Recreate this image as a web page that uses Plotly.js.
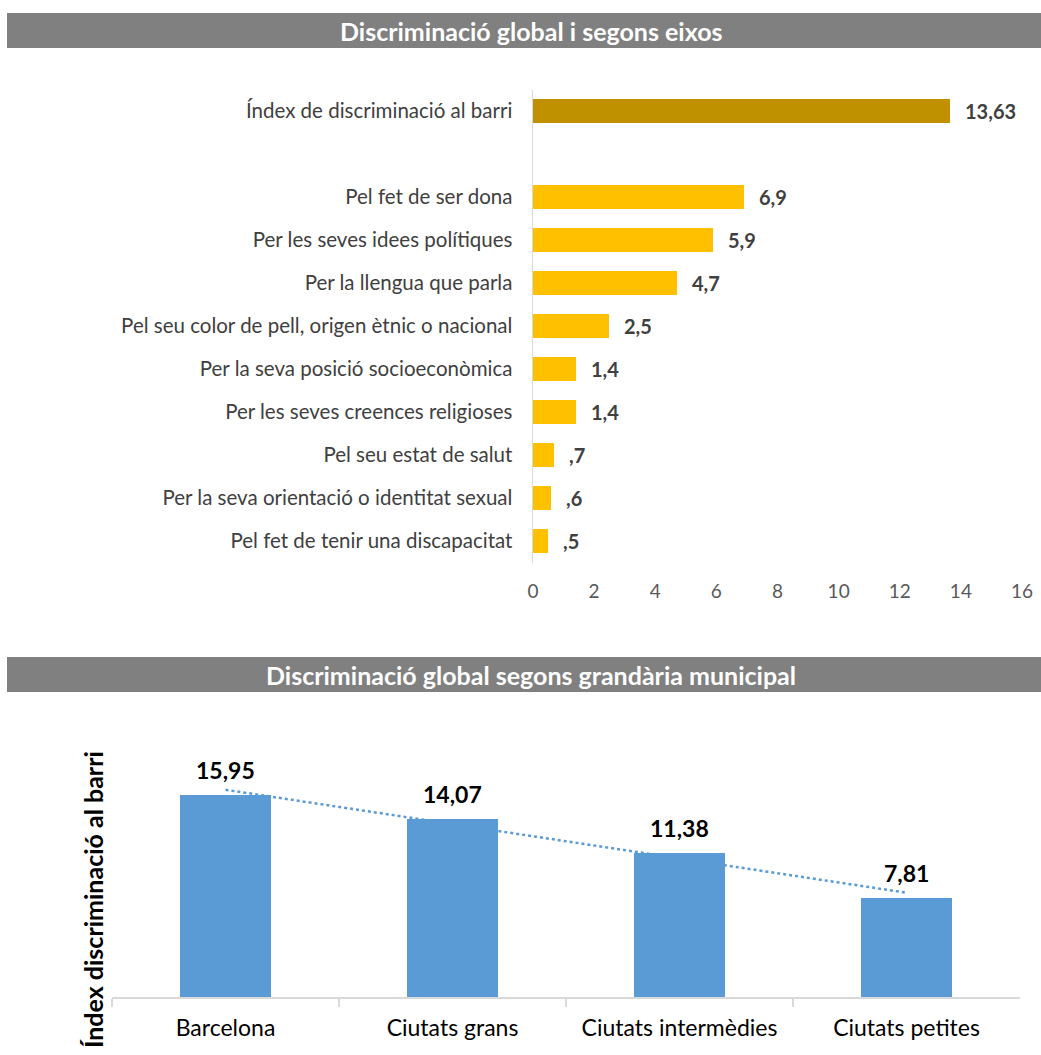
<!DOCTYPE html>
<html><head><meta charset="utf-8">
<script src="https://cdn.plot.ly/plotly-3.0.1.min.js"></script>
<style>body{margin:0;background:#fff}#chart{width:1041px;height:1055px}</style>
</head><body><div id="chart"></div>
<script>
// ---- Data ----
const titleTop = "Discriminació global i segons eixos";
const titleBottom = "Discriminació global segons grandària municipal";

const indexLabel = "Índex de discriminació al barri";
const indexValue = 13.63;

const axisCategories = [
  "Pel fet de ser dona",
  "Per les seves idees polítiques",
  "Per la llengua que parla",
  "Pel seu color de pell, origen ètnic o nacional",
  "Per la seva posició socioeconòmica",
  "Per les seves creences religioses",
  "Pel seu estat de salut",
  "Per la seva orientació o identitat sexual",
  "Pel fet de tenir una discapacitat"
];
const axisValues = [6.9, 5.9, 4.7, 2.5, 1.4, 1.4, 0.7, 0.6, 0.5];

const sizeCategories = ["Barcelona", "Ciutats grans", "Ciutats intermèdies", "Ciutats petites"];
const sizeValues = [15.95, 14.07, 11.38, 7.81];

const yTitleBottom = "Índex discriminació al barri";
const topTicks = [0, 2, 4, 6, 8, 10, 12, 14, 16];

// ---- Helpers ----
const W = 1041, H = 1055;
const px = v => v / W;
const py = v => 1 - v / H;
const fmt = v => String(v).replace('.', ',').replace(/^0,/, ',');
const FONT = "Lato, 'Open Sans', sans-serif";

// linear trendline (least squares over category positions)
const n = sizeValues.length;
const xi = sizeValues.map((_, i) => i + 1);
const mx = xi.reduce((a, b) => a + b, 0) / n;
const my = sizeValues.reduce((a, b) => a + b, 0) / n;
let sxy = 0, sxx = 0;
for (let i = 0; i < n; i++) { sxy += (xi[i] - mx) * (sizeValues[i] - my); sxx += (xi[i] - mx) ** 2; }
const slope = sxy / sxx, icpt = my - slope * mx;
const trendY = xi.map(x => icpt + slope * x);

const spacer = " ";
const topOrder = [indexLabel, spacer, ...axisCategories];

const traces = [
  { type: 'bar', orientation: 'h', x: [indexValue], y: [indexLabel], xaxis: 'x', yaxis: 'y',
    marker: { color: '#BF9000' }, width: 0.58, hoverinfo: 'skip', showlegend: false },
  { type: 'bar', orientation: 'h', x: axisValues, y: axisCategories, xaxis: 'x', yaxis: 'y',
    marker: { color: '#FFC000' }, width: 0.58, hoverinfo: 'skip', showlegend: false },
  { type: 'bar', x: sizeCategories, y: sizeValues, xaxis: 'x2', yaxis: 'y2',
    marker: { color: '#5B9BD5' }, width: 0.4, hoverinfo: 'skip', showlegend: false },
  { type: 'scatter', mode: 'lines', x: sizeCategories, y: trendY, xaxis: 'x2', yaxis: 'y2',
    line: { color: '#5B9BD5', width: 2.5, dash: 'dot' }, hoverinfo: 'skip', showlegend: false }
];

const annotations = [];
// band titles
annotations.push({ xref: 'paper', yref: 'paper', x: px(531), y: py(31), text: '<b>' + titleTop + '</b>',
  showarrow: false, font: { family: FONT, size: 25, color: '#ffffff' }, xanchor: 'center', yanchor: 'middle' });
annotations.push({ xref: 'paper', yref: 'paper', x: px(531), y: py(675), text: '<b>' + titleBottom + '</b>',
  showarrow: false, font: { family: FONT, size: 25, color: '#ffffff' }, xanchor: 'center', yanchor: 'middle' });
// top data labels
[indexValue, ...axisValues].forEach((v, i) => {
  const cat = i === 0 ? indexLabel : axisCategories[i - 1];
  annotations.push({ xref: 'x', yref: 'y', x: v, y: cat, text: '<b>' + fmt(v) + '</b>', showarrow: false,
    xanchor: 'left', yanchor: 'middle', xshift: 13, font: { family: FONT, size: 20, color: '#404040' } });
});
// bottom data labels
sizeValues.forEach((v, i) => {
  annotations.push({ xref: 'x2', yref: 'y2', x: sizeCategories[i], y: v, text: '<b>' + fmt(v) + '</b>', showarrow: false,
    xanchor: 'center', yanchor: 'bottom', yshift: 9, font: { family: FONT, size: 23, color: '#000000' } });
});
// bottom y-axis title
annotations.push({ xref: 'paper', yref: 'paper', x: px(93), y: py(900), text: '<b>' + yTitleBottom + '</b>',
  textangle: -90, showarrow: false, xanchor: 'center', yanchor: 'middle',
  font: { family: FONT, size: 25, color: '#000000' } });

const layout = {
  width: W, height: H, margin: { l: 0, r: 0, t: 0, b: 0 },
  paper_bgcolor: '#ffffff', plot_bgcolor: 'rgba(0,0,0,0)',
  font: { family: FONT },
  bargap: 0,
  shapes: [
    { type: 'rect', xref: 'paper', yref: 'paper', x0: px(7), x1: 1, y0: py(48), y1: py(13), fillcolor: '#808080', line: { width: 0 }, layer: 'below' },
    { type: 'rect', xref: 'paper', yref: 'paper', x0: px(7), x1: 1, y0: py(692), y1: py(657), fillcolor: '#808080', line: { width: 0 }, layer: 'below' }
  ],
  xaxis: {
    domain: [px(533), px(1022)], range: [0, 16], tickvals: topTicks, ticktext: topTicks.map(String),
    showgrid: false, zeroline: false, showline: false, ticks: '', ticklabelstandoff: 15,
    tickfont: { family: FONT, size: 19, color: '#595959' }, anchor: 'y', fixedrange: true
  },
  yaxis: {
    domain: [py(562.5), py(89.5)], type: 'category', categoryorder: 'array', categoryarray: topOrder,
    range: [topOrder.length - 0.5, -0.5], showgrid: false, zeroline: false,
    showline: true, linecolor: '#d9d9d9', linewidth: 1.5, ticks: '', ticklabelstandoff: 15,
    tickfont: { family: FONT, size: 20.5, color: '#404040' }, anchor: 'x', fixedrange: true
  },
  xaxis2: {
    domain: [px(112), px(1020)], type: 'category', range: [-0.5, sizeCategories.length - 0.5],
    showgrid: false, zeroline: false, showline: true, linecolor: '#d9d9d9', linewidth: 1.5,
    ticks: 'outside', tickson: 'boundaries', ticklen: 8, tickcolor: '#d9d9d9', tickwidth: 1.5,
    ticklabelstandoff: 10,
    tickfont: { family: FONT, size: 23, color: '#000000' }, anchor: 'y2', fixedrange: true
  },
  yaxis2: {
    domain: [py(997), py(743.8)], range: [0, 20], visible: false, anchor: 'x2', fixedrange: true
  },
  annotations: annotations
};

Plotly.newPlot('chart', traces, layout, { displayModeBar: false, staticPlot: true });
</script>
</body></html>
